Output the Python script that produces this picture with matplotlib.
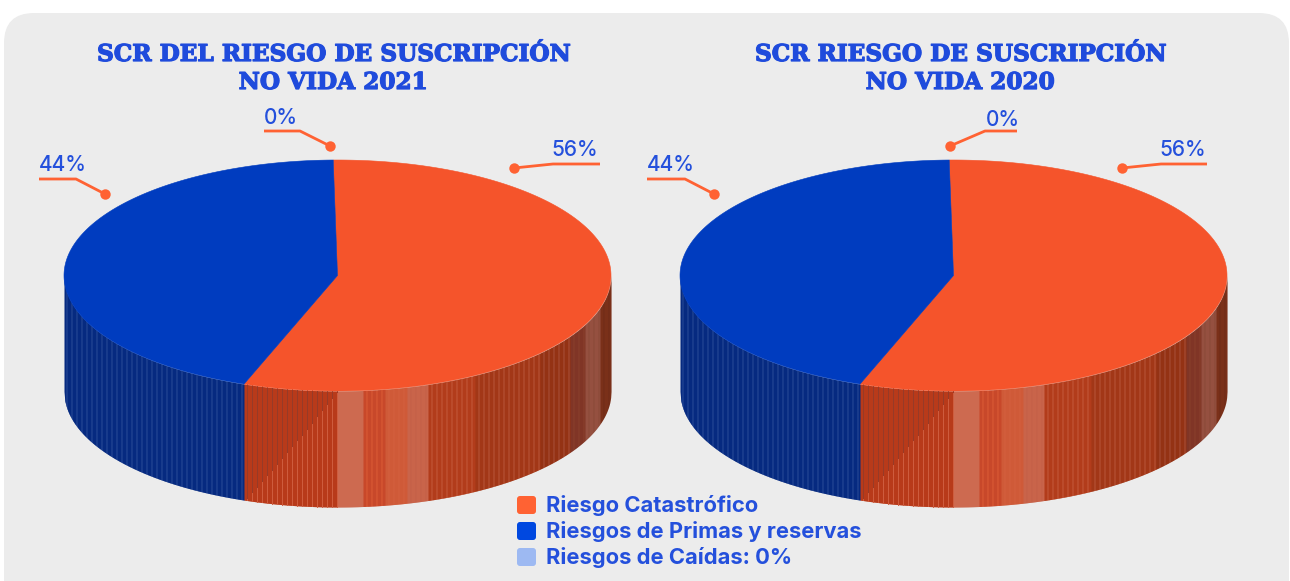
import numpy as np
import matplotlib
matplotlib.use("Agg")
import matplotlib.pyplot as plt
import matplotlib.patheffects as pe
from matplotlib.patches import FancyBboxPatch, Polygon

# --- data ---
categories = ["Riesgo Catastrófico", "Riesgos de Primas y reservas", "Riesgos de Caídas: 0%"]
values_2021 = [55.8, 44.2, 0]
values_2020 = [55.8, 44.2, 0]
title_2021 = "SCR DEL RIESGO DE SUSCRIPCIÓN\nNO VIDA 2021"
title_2020 = "SCR RIESGO DE SUSCRIPCIÓN\nNO VIDA 2020"

# --- style ---
W, H = 1290, 581
TOP_COL = ["#F5542B", "#003CBF", "#9DB9F2"]
LEG_COL = ["#FF6233", "#0048E0", "#9DB9F2"]
TXT = "#2450DC"
LEAD = "#FF6233"
RX, RY, DEPTH = 273.5, 115.5, 116
START = -0.9
# wall shading bands: offset from pie centre (px) -> base colour, stripe colour
BANDS = [(-274, -93, "#062A80", "#2A4C98"),
         (-93, 0, "#B83A1A", "#CF5E40"),
         (0, 26, "#CD6A50", "#CD6A50"),
         (26, 48, "#C8482A", "#DC5C36"),
         (48, 70, "#CF5A38", "#D4603F"),
         (70, 91, "#C9644A", "#C46048"),
         (91, 138, "#B23C1B", "#C45A3C"),
         (138, 203, "#A23717", "#B8563A"),
         (203, 233, "#943214", "#A8503A"),
         (233, 248, "#803526", "#8A402C"),
         (248, 263, "#955040", "#8A4A38"),
         (263, 274.5, "#7A3019", "#702C18")]

fig = plt.figure(figsize=(W / 100, H / 100), dpi=100, facecolor="white")
ax = fig.add_axes([0, 0, 1, 1])
ax.set_xlim(0, W)
ax.set_ylim(H, 0)
ax.axis("off")

ax.add_patch(FancyBboxPatch((4 + 30, 13 + 30), W - 4 - 60 - 1, 600 - 60,
                            boxstyle="round,pad=30,rounding_size=30",
                            fc="#ECECEC", ec="none"))


def band_for(off):
    for a, b, c, s in BANDS:
        if a <= off < b:
            return a, c, s
    return BANDS[-1][0], BANDS[-1][2], BANDS[-1][3]


def draw_pie(cx, cy, vals, title, tx, leaders):
    # side wall, pixel strips that overlap the previous one so no seam shows
    offs = np.arange(-RX, RX, 1.0)
    for off in offs:
        u0, u1 = off / RX, min(off + 1.6, RX) / RX
        uu = np.linspace(u0, u1, 3)
        yy = cy + RY * np.sqrt(np.clip(1 - uu ** 2, 0, 1))
        a, col, stripe = band_for(off + 0.5)
        i = int(off - a)
        in_facet = -93 <= off < 0
        c = col if in_facet else (stripe if i % 5 == 2 else col)
        ax.fill_between(cx + uu * RX, yy, yy + DEPTH, color=c, lw=0, zorder=2)
        # diagonal facet inside the dark orange part
        if in_facet and i % 5 == 1:
            ymid = min(yy[1] + DEPTH * (-off / 93), yy[1] + DEPTH)
            ax.plot([cx + off + 0.5] * 2, [yy[1], ymid], color="#963A28", lw=0.7, zorder=3)
            ax.plot([cx + off + 0.5] * 2, [ymid, yy[1] + DEPTH], color=stripe, lw=0.7, zorder=3)

    # top face, wedges clockwise from START
    t0 = START
    total = sum(vals)
    for v, col in zip(vals, TOP_COL):
        if v <= 0:
            continue
        t1 = t0 + 360 * v / total
        t = np.radians(np.linspace(t0, t1, 240))
        pts = np.column_stack([cx + RX * np.sin(t), cy - RY * np.cos(t)])
        pts = np.vstack([[cx, cy], pts])
        ax.add_patch(Polygon(pts, closed=True, fc=col, ec=col, lw=0.4, zorder=4))
        t0 = t1

    title_lines = title.split("\n")
    for line, y in zip(title_lines, (55, 83)):
        ax.text(tx, y, line, ha="center", va="center", color="#1F4BDC",
                family="DejaVu Serif", weight="bold", fontsize=16.7, zorder=6,
                path_effects=[pe.withStroke(linewidth=0.9, foreground="#1F4BDC")])

    for v, (pts, lx, ly, ha) in zip(vals, leaders):
        xs, ys = zip(*pts)
        ax.plot(xs, ys, color=LEAD, lw=2, zorder=5, solid_capstyle="butt")
        ax.plot(xs[-1], ys[-1], "o", color=LEAD, ms=7.5, mew=0, zorder=5)
        ax.text(lx, ly, f"{v:.0f}%", ha=ha, va="center", color=TXT, family="Inter",
                weight="medium", fontsize=15, zorder=6)


leaders_2021 = [([(600, 164), (553, 164), (514, 168)], 598, 149.5, "right"),
                ([(39, 179), (76, 179), (105, 194)], 39, 165, "left"),
                ([(264, 131), (300, 131), (330, 146)], 264, 117.5, "left")]
leaders_2020 = [([(1207, 164), (1161, 164), (1122, 168)], 1206, 149.5, "right"),
                ([(647, 179), (685, 179), (714, 194)], 647, 165, "left"),
                ([(1017, 131), (985, 131), (950, 146)], 986, 119.5, "left")]

draw_pie(337.5, 275.5, values_2021, title_2021, 333, leaders_2021)
draw_pie(953.5, 275.5, values_2020, title_2020, 960, leaders_2020)

for i, (name, col) in enumerate(zip(categories, LEG_COL)):
    y = 505 + 26 * i
    ax.add_patch(FancyBboxPatch((519, y - 7), 15, 14, boxstyle="round,pad=2,rounding_size=3",
                                fc=col, ec="none", zorder=6))
    ax.text(546, y + 0.5, name, ha="left", va="center", color=TXT, family="Inter",
            weight="bold", fontsize=15.8, zorder=6)

fig.savefig("out.png", dpi=100, facecolor="white")
